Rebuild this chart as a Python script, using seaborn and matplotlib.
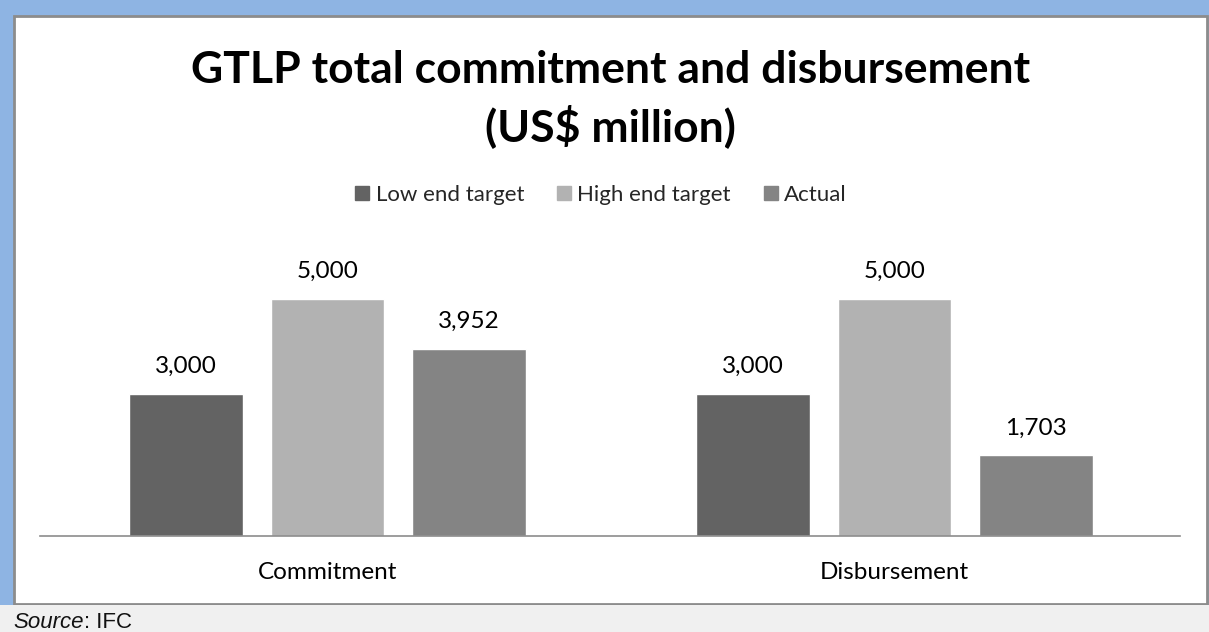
import matplotlib
matplotlib.use("Agg")
import matplotlib.pyplot as plt
import seaborn as sns
import pandas as pd
from matplotlib.patches import Rectangle
from matplotlib.lines import Line2D

categories = ["Commitment", "Disbursement"]
series = ["Low end target", "High end target", "Actual"]
low_end = [3000, 3000]
high_end = [5000, 5000]
actual = [3952, 1703]
colors = ["#636363", "#B2B2B2", "#848484"]

rows = []
for i, c in enumerate(categories):
    rows.append({"cat": c, "series": series[0], "value": low_end[i]})
    rows.append({"cat": c, "series": series[1], "value": high_end[i]})
    rows.append({"cat": c, "series": series[2], "value": actual[i]})
df = pd.DataFrame(rows)

sns.set_theme(style="white")
plt.rcParams["font.family"] = ["Lato", "DejaVu Sans"]

W, H = 1209, 632
fig = plt.figure(figsize=(W / 100, H / 100), dpi=100)
fig.patch.set_facecolor("#8EB4E3")

# panel background
fig.patches.append(Rectangle((14 / W, 1 - 604 / H), (1207 - 14) / W, (604 - 16) / H,
                             transform=fig.transFigure, facecolor="white",
                             edgecolor="#8C8C8C", linewidth=2, zorder=-10))
fig.patches.append(Rectangle((0, 0), 1, (H - 605) / H, transform=fig.transFigure,
                             facecolor="#F0F0F0", edgecolor="none", zorder=-9))

ax_left, ax_right, ax_bottom, ax_top = 40, 1180, 536, 236
ax = fig.add_axes([ax_left / W, 1 - ax_bottom / H, (ax_right - ax_left) / W,
                   (ax_bottom - ax_top) / H])
ax.set_facecolor("none")

sns.barplot(data=df, x="cat", y="value", hue="series", hue_order=series,
            order=categories, palette=colors, width=0.749, gap=0.2,
            saturation=1, ax=ax, legend=False, errorbar=None)

ymax = (ax_bottom - ax_top) / (237 / 5000)
ax.set_ylim(0, ymax)
ax.set_xlim(-0.507, 1.5035)

for cont in ax.containers:
    ax.bar_label(cont, labels=[f"{v:,.0f}" for v in cont.datavalues],
                 padding=12, fontsize=17.5, color="black")

for s in ["top", "right", "left"]:
    ax.spines[s].set_visible(False)
ax.spines["bottom"].set_color("#8C8C8C")
ax.spines["bottom"].set_linewidth(1.2)
ax.set_yticks([])
ax.set_xlabel("")
ax.set_ylabel("")
ax.tick_params(axis="x", length=0, pad=19, labelsize=17.5, colors="black")

fig.text(610.5 / W, 1 - 83 / H, "GTLP total commitment and disbursement",
         ha="center", va="baseline", fontsize=32, fontweight="bold", color="black")
fig.text(610 / W, 1 - 141 / H, "(US$ million)",
         ha="center", va="baseline", fontsize=32, fontweight="bold", color="black")

handles = [Line2D([], [], marker="s", linestyle="none", markersize=10,
                  markerfacecolor=c, markeredgecolor=c) for c in colors]
fig.legend(handles, series, loc="center", bbox_to_anchor=(599 / W, 1 - 195 / H),
           ncol=3, frameon=False, fontsize=16, handletextpad=0.1,
           columnspacing=1.3, handlelength=1.0)

src_family = ["Liberation Sans", "DejaVu Sans"]
t1 = fig.text(13 / W, 1 - 628 / H, "Source", ha="left", va="baseline", fontsize=16,
              style="italic", family=src_family, color="#111111")
fig.canvas.draw()
bb = t1.get_window_extent(renderer=fig.canvas.get_renderer())
fig.text((bb.x1 + 1) / W, 1 - 628 / H, ": IFC", ha="left", va="baseline", fontsize=16,
         family=src_family, color="#111111")

fig.savefig("out.png", dpi=100, facecolor=fig.get_facecolor())
